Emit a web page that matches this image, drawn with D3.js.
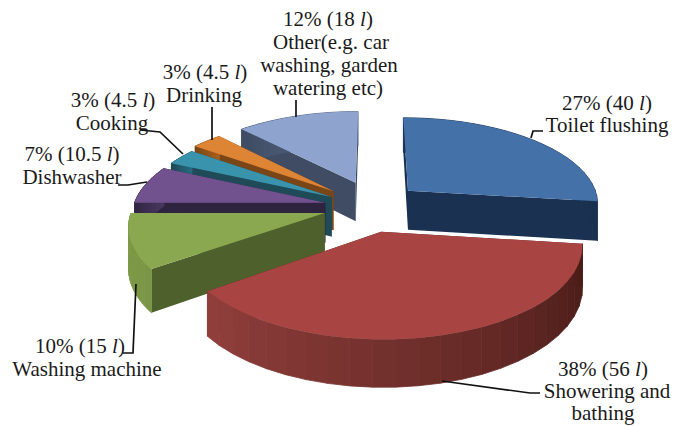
<!DOCTYPE html>
<html>
<head>
<meta charset="utf-8">
<script src="https://cdn.jsdelivr.net/npm/d3@7"></script>
<style>
  html, body { margin: 0; padding: 0; background: #fff; }
  svg { display: block; }
  text { font-family: "Liberation Serif", serif; font-size: 21px; fill: #1a1a1a; text-anchor: middle; }
</style>
</head>
<body>
<svg id="chart" width="676" height="426"></svg>
<script>
// share of daily water use, %
const categories = ['Toilet flushing', 'Showering and bathing', 'Washing machine', 'Dishwasher', 'Cooking', 'Drinking', 'Other'];
const percents = [27, 38, 10, 7, 3, 3, 12];
const litres = ['40', '56', '15', '10.5', '4.5', '4.5', '18'];

const topColours = ['#4472a8', '#a84543', '#8aa84f', '#71528f', '#3a93ad', '#de8435', '#8ea4ce'];
const wallColours = ['#1b3152', '#5a2220', '#4e602b', '#2f2440', '#1f4a58', '#7a4617', '#3f4c63'];
const rimStart = ['#1b3152', '#471b17', '#7a9645', '#2f2440', '#1f4a58', '#7a4617', '#3f4c63'];
const rimEnd = ['#1b3152', '#93403d', '#7f9b48', '#4a3860', '#2a6b80', '#a8621f', '#5a6c8c'];

const width = 676, height = 426;
const cx = 367, cy = 207, radius = 192, depth = 40, tilt = 0.45, persp = 0.13;
// how far each wedge is pulled out of the pie, plus a sideways nudge
const explode = [56, 55, 43, 44, 44, 54, 60];
const nudge = [0, 0, -1, 1, 2, 6, 10];
const drawOrder = [6, 5, 4, 3, 0, 2, 1];

const svg = d3.select('#chart');

function project(theta, r, wedge, z) {
    const u = r * Math.sin(theta) + wedge.off * Math.sin(wedge.mid);
    const v = r * Math.cos(theta) + wedge.off * Math.cos(wedge.mid);
    const s = 1 / (1 + persp * v / radius);
    return [cx + wedge.nudge + u * s, cy - tilt * v * s + z * s];
}

const wedges = d3.pie().sort(null)(percents).map((d, i) => ({
    i,
    a0: d.startAngle,
    a1: d.endAngle,
    mid: (d.startAngle + d.endAngle) / 2,
    off: explode[i],
    nudge: nudge[i]
}));

const line = d3.line();
const steps = d => d3.range(0, 25).map(k => d.a0 + (d.a1 - d.a0) * k / 24);

const groups = svg.selectAll('g.wedge')
    .data(drawOrder.map(i => wedges[i]))
    .enter()
    .append('g')
    .attr('class', 'wedge');

// radial walls
groups.selectAll('path.wall')
    .data(d => [[d, d.a0], [d, d.a1]])
    .enter()
    .append('path')
    .attr('class', 'wall')
    .attr('fill', ([d]) => wallColours[d.i])
    .attr('d', ([d, a]) => line([
        project(a, 0, d, 0),
        project(a, radius, d, 0),
        project(a, radius, d, depth),
        project(a, 0, d, depth)
    ]) + 'Z');

// outer rim, one band per step so the shading changes along the arc
groups.each(function (d) {
    const angles = steps(d);
    const shade = d3.scaleLinear().domain([d.a0, d.a1]).range([rimStart[d.i], rimEnd[d.i]]);
    d3.select(this).selectAll('path.rim')
        .data(d3.pairs(angles))
        .enter()
        .append('path')
        .attr('class', 'rim')
        .attr('fill', p => shade(p[0]))
        .attr('stroke', p => shade(p[0]))
        .attr('stroke-width', 0.8)
        .attr('d', p => line([
            project(p[0], radius, d, 0),
            project(p[1], radius, d, 0),
            project(p[1], radius, d, depth),
            project(p[0], radius, d, depth)
        ]) + 'Z');
});

// top faces
groups.append('path')
    .attr('fill', d => topColours[d.i])
    .attr('d', d => line([project(0, 0, d, 0)].concat(steps(d).map(a => project(a, radius, d, 0)))) + 'Z');

const leaders = [
    [[531, 138], [533, 131], [543, 131]],
    [[442, 381], [530, 393], [540, 393]],
    [[136, 284], [133, 353], [123, 353]],
    [[147, 182], [128, 185], [118, 185]],
    [[183, 154], [160, 132], [140, 130]],
    [[212, 140], [212, 107]],
    [[296, 117], [296, 100]]
];

svg.selectAll('path.leader')
    .data(leaders)
    .enter()
    .append('path')
    .attr('class', 'leader')
    .attr('fill', 'none')
    .attr('stroke', '#111')
    .attr('stroke-width', 1.7)
    .attr('d', d => line(d));

// [text, litres index or -1, centre x, baseline y]
const labelRows = [
    ['12%', 6, 328, 26],
    ['Other(e.g. car', -1, 331, 49],
    ['washing, garden', -1, 329, 72],
    ['watering etc)', -1, 328, 95],
    ['3%', 5, 205, 79],
    ['Drinking', -1, 204, 102],
    ['3%', 4, 113, 107],
    ['Cooking', -1, 112, 130],
    ['7%', 3, 72, 161],
    ['Dishwasher', -1, 72, 184],
    ['27%', 0, 607, 110],
    ['Toilet flushing', -1, 607, 132],
    ['38%', 1, 603, 376],
    ['Showering and', -1, 607, 398],
    ['bathing', -1, 603, 420],
    ['10%', 2, 80, 353],
    ['Washing machine', -1, 87, 376]
];

const rows = svg.selectAll('text.label')
    .data(labelRows)
    .enter()
    .append('text')
    .attr('class', 'label')
    .attr('x', d => d[2])
    .attr('y', d => d[3]);

rows.filter(d => d[1] < 0).text(d => d[0]);
rows.filter(d => d[1] >= 0).each(function (d) {
    const t = d3.select(this);
    t.append('tspan').text(`${d[0]} (${litres[d[1]]} `);
    t.append('tspan').attr('font-style', 'italic').text('l');
    t.append('tspan').text(')');
});
</script>
</body>
</html>
